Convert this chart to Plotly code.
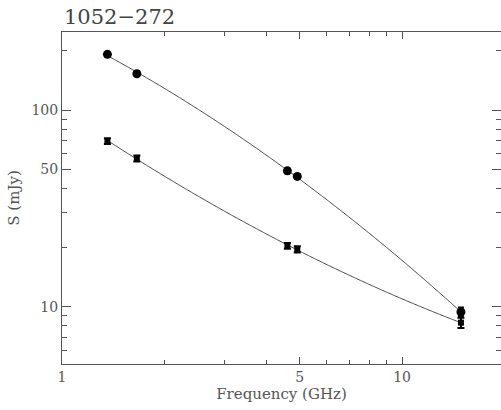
import numpy as np
import plotly.graph_objects as go

# Data
freq_hi = [1.36, 1.66, 4.60, 4.92, 14.9]
flux_hi = [192, 153, 49.1, 46.0, 9.4]
err_hi = [5, 4, 1.4, 1.3, 0.5]

freq_lo = [1.36, 1.66, 4.60, 4.92, 14.9]
flux_lo = [69.6, 56.8, 20.4, 19.6, 8.3]
err_lo = [2.4, 2.0, 0.7, 0.7, 0.5]

x_ticks = [1, 5, 10]
x_minor = [2, 3, 4, 6, 7, 8, 9, 20]
y_ticks = [10, 50, 100]
y_minor = [6, 7, 8, 9, 20, 30, 40, 60, 70, 80, 90, 200]

title_text = "1052\u2212272"

def fit_curve(xs, ys):
    lx = np.log10(xs)
    ly = np.log10(ys)
    c = np.polyfit(lx, ly, 2)
    gx = np.linspace(lx.min(), lx.max(), 300)
    return 10 ** gx, 10 ** np.polyval(c, gx)

fig = go.Figure()
line_col = "#444444"
for xs, ys in [(freq_hi, flux_hi), (freq_lo, flux_lo)]:
    fx, fy = fit_curve(np.array(xs), np.array(ys))
    fig.add_trace(go.Scatter(x=fx, y=fy, mode="lines",
                             line=dict(color=line_col, width=1, shape="spline"),
                             hoverinfo="skip"))

fig.add_trace(go.Scatter(x=freq_hi, y=flux_hi, mode="markers",
                         marker=dict(symbol="circle", size=9, color="black"),
                         error_y=dict(type="data", array=err_hi, color="black",
                                      thickness=2, width=3)))
fig.add_trace(go.Scatter(x=freq_lo, y=flux_lo, mode="markers",
                         marker=dict(symbol="square", size=6, color="black"),
                         error_y=dict(type="data", array=err_lo, color="black",
                                      thickness=2, width=3.5)))

font_f = "DejaVu Serif"
tcol = "#555555"
axis_common = dict(type="log", showline=True, linecolor="#555555", linewidth=1,
                   mirror="allticks", ticks="inside", ticklen=8, tickwidth=1,
                   tickcolor="#555555", showgrid=False, zeroline=False,
                   tickfont=dict(family=font_f, size=14, color=tcol))

fig.update_layout(
    width=501, height=410,
    margin=dict(l=62, r=0, t=32, b=46),
    paper_bgcolor="white", plot_bgcolor="white",
    showlegend=False,
    xaxis=dict(axis_common, range=[0, 1.291], tickmode="array", tickvals=x_ticks,
               ticktext=[str(v) for v in x_ticks], ticklen=7,
               minor=dict(tickvals=x_minor, ticks="inside", ticklen=4,
                          tickcolor="#555555", showgrid=False),
               title=dict(text="Frequency (GHz)", standoff=4,
                          font=dict(family=font_f, size=15, color=tcol))),
    yaxis=dict(axis_common, range=[0.709, 2.397], tickmode="array", tickvals=y_ticks,
               ticktext=[str(v) for v in y_ticks], ticklen=9,
               minor=dict(tickvals=y_minor, ticks="inside", ticklen=5,
                          tickcolor="#555555", showgrid=False),
               title=dict(text="S (mJy)", standoff=8,
                          font=dict(family=font_f, size=15, color=tcol))),
    annotations=[dict(text=title_text, xref="paper", yref="paper", x=0, y=1,
                      xanchor="left", yanchor="bottom", yshift=1, showarrow=False,
                      font=dict(family=font_f, size=21, color="#444444"))],
)

fig.write_html("out.html")
